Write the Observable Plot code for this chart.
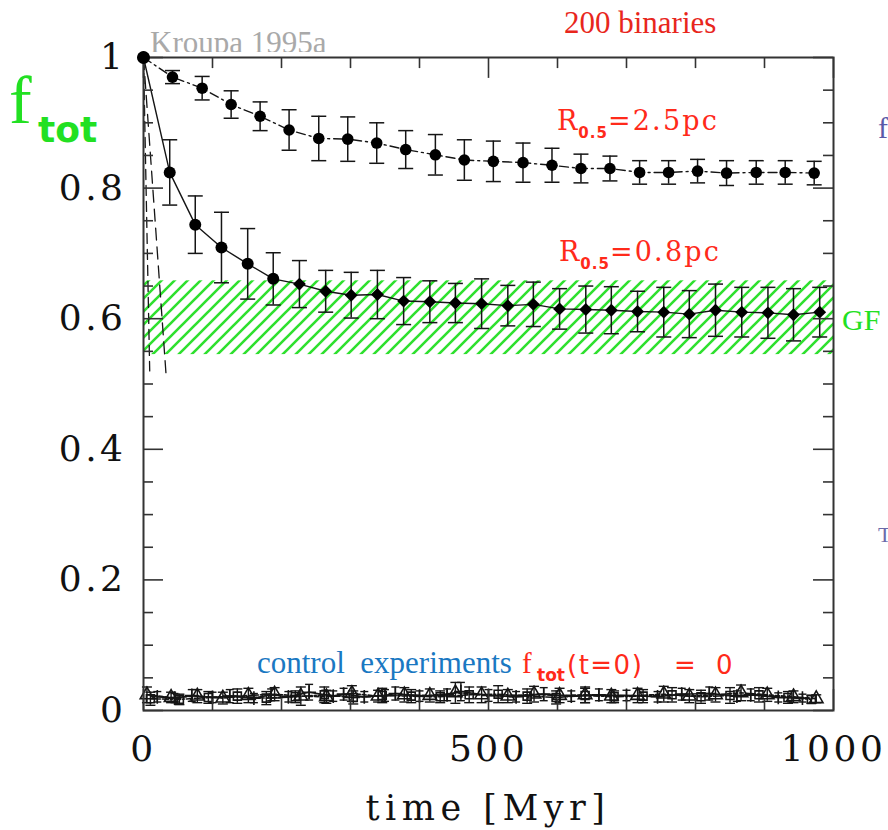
<!DOCTYPE html>
<html><head><meta charset="utf-8">
<script src="https://cdn.jsdelivr.net/npm/d3@7"></script>
<script src="https://cdn.jsdelivr.net/npm/@observablehq/plot@0.6"></script>
<style>
body{margin:0;background:#fff;overflow:hidden;}
#chart{position:relative;width:888px;height:830px;}
#chart g[aria-label="y-axis tick label"] text,
#chart g[aria-label="x-axis tick label"] text{letter-spacing:3.5px;}
</style></head><body><div id="chart"></div>
<script>
// ---- data ----
const timeS1 = [0, 42, 85, 127, 169, 211, 254, 296, 338, 380, 423, 465, 507, 550, 592, 634, 676, 719, 761, 803, 845, 888, 930, 972];
const fracS1 = [1.0, 0.970, 0.953, 0.928, 0.910, 0.889, 0.876, 0.875, 0.869, 0.859, 0.851, 0.843, 0.841, 0.839, 0.835, 0.830, 0.830, 0.824, 0.824, 0.826, 0.823, 0.824, 0.824, 0.823];
const errS1  = [0, 0.010, 0.018, 0.021, 0.022, 0.031, 0.034, 0.034, 0.031, 0.029, 0.031, 0.031, 0.031, 0.030, 0.026, 0.022, 0.019, 0.018, 0.018, 0.018, 0.019, 0.018, 0.018, 0.018];

const timeS2 = [0, 38, 75, 113, 151, 188, 226, 264, 301, 339, 377, 415, 452, 490, 528, 565, 603, 641, 678, 716, 754, 791, 829, 867, 905, 942, 980];
const fracS2 = [1.0, 0.824, 0.744, 0.709, 0.684, 0.661, 0.653, 0.642, 0.636, 0.637, 0.627, 0.626, 0.624, 0.623, 0.620, 0.622, 0.615, 0.614, 0.613, 0.611, 0.610, 0.607, 0.613, 0.610, 0.609, 0.606, 0.610];
const errS2  = [0, 0.050, 0.044, 0.054, 0.054, 0.040, 0.036, 0.032, 0.035, 0.037, 0.036, 0.032, 0.030, 0.038, 0.031, 0.034, 0.031, 0.036, 0.036, 0.031, 0.038, 0.036, 0.040, 0.038, 0.039, 0.040, 0.038];

const timeSteepA = [0, 33];
const fracSteepA = [1.0, 0.51];
const timeSteepB = [0, 9];
const fracSteepB = [1.0, 0.52];

const cTimeA = [5, 40, 78, 115, 152, 190, 228, 265, 302, 340, 378, 415, 452, 490, 528, 566, 603, 640, 678, 716, 754, 791, 829, 866, 904, 942, 975];
const cValA  = [0.024,0.020,0.022,0.019,0.023,0.025,0.022,0.021,0.026,0.022,0.024,0.023,0.027,0.024,0.022,0.025,0.023,0.024,0.022,0.023,0.025,0.022,0.024,0.027,0.024,0.021,0.018];
const cErrA  = [0.012,0.008,0.010,0.009,0.011,0.010,0.014,0.010,0.012,0.009,0.011,0.010,0.016,0.012,0.010,0.012,0.011,0.012,0.010,0.011,0.012,0.010,0.011,0.012,0.010,0.009,0.006];

const cTimeB = [10, 52, 94, 136, 178, 220, 262, 304, 346, 388, 430, 472, 514, 556, 598, 640, 682, 724, 766, 808, 850, 892, 934, 968];
const cValB  = [0.018,0.017,0.020,0.022,0.019,0.021,0.024,0.020,0.023,0.022,0.021,0.024,0.025,0.022,0.020,0.023,0.021,0.022,0.024,0.021,0.023,0.024,0.020,0.017];
const cErrB  = [0.010,0.008,0.009,0.011,0.010,0.009,0.012,0.010,0.011,0.010,0.009,0.012,0.013,0.011,0.010,0.011,0.009,0.010,0.011,0.010,0.012,0.011,0.009,0.006];

const cTimeC = [20, 45, 70, 100, 125, 160, 185, 210, 240, 275, 290, 320, 350, 365, 400, 440, 460, 500, 540, 580, 620, 660, 700, 745, 780, 820, 860, 880, 920, 955];
const cValC  = [0.021,0.019,0.023,0.020,0.022,0.019,0.024,0.021,0.028,0.022,0.025,0.021,0.023,0.026,0.022,0.024,0.029,0.023,0.021,0.025,0.022,0.024,0.023,0.021,0.025,0.026,0.022,0.024,0.020,0.019];
const cErrC  = [0.008,0.007,0.009,0.008,0.010,0.007,0.009,0.008,0.012,0.008,0.009,0.008,0.009,0.010,0.008,0.009,0.014,0.009,0.008,0.010,0.008,0.009,0.008,0.008,0.009,0.010,0.008,0.009,0.007,0.006];

const gfBand = [0.545, 0.658];

const xMajor = [0, 500, 1000];
const xMinor = [100, 200, 300, 400, 600, 700, 800, 900];
const yMajor = [0, 0.2, 0.4, 0.6, 0.8, 1];
const yMinor = [0.05, 0.1, 0.15, 0.25, 0.3, 0.35, 0.45, 0.5, 0.55, 0.65, 0.7, 0.75, 0.85, 0.9, 0.95];

// ---- build rows ----
const rows = (ts, vs, es) => ts.map((t, i) => ({t, y: vs[i], e: es ? es[i] : 0}));
const s1 = rows(timeS1, fracS1, errS1);
const s2 = rows(timeS2, fracS2, errS2);
const sA = rows(timeSteepA, fracSteepA);
const sB = rows(timeSteepB, fracSteepB);
const cA = rows(cTimeA, cValA, cErrA);
const cB = rows(cTimeB, cValB, cErrB);
const cC = rows(cTimeC, cValC, cErrC);

const cap = {draw(ctx, size) { const w = Math.sqrt(size / Math.PI); ctx.moveTo(-w, 0); ctx.lineTo(w, 0); }};
const ink = "#151515";

function errMarks(data, capR, sw) {
  const d = data.filter(r => r.e > 0);
  return [
    Plot.ruleX(d, {x: "t", y1: r => r.y - r.e, y2: r => r.y + r.e, stroke: ink, strokeWidth: sw}),
    Plot.dot(d, {x: "t", y: r => r.y + r.e, symbol: cap, r: capR, fill: "none", stroke: ink, strokeWidth: sw}),
    Plot.dot(d, {x: "t", y: r => r.y - r.e, symbol: cap, r: capR, fill: "none", stroke: ink, strokeWidth: sw})
  ];
}

const TXL = 0.032, TXS = 0.017, TYL = 29, TYS = 14.5;

const chart = Plot.plot({
  width: 888, height: 830,
  marginLeft: 143, marginRight: 55, marginTop: 57, marginBottom: 120,
  x: {domain: [0, 1000], label: null},
  y: {domain: [0, 1], label: null},
  style: {fontFamily: "DejaVu Serif", fontSize: "36px", background: "white", color: "#111"},
  marks: [
    Plot.rect([gfBand], {x1: 0, x2: 1000, y1: d => d[0], y2: d => d[1], fill: "url(#gfHatch)"}),
    // steep dashed runs
    Plot.line(sA, {x: "t", y: "y", stroke: ink, strokeWidth: 1.3, strokeDasharray: "12,7"}),
    Plot.line(sB, {x: "t", y: "y", stroke: ink, strokeWidth: 1.3, strokeDasharray: "10,6"}),
    // control experiments
    ...errMarks(cA, 5, 1.4),
    ...errMarks(cB, 5, 1.4),
    ...errMarks(cC, 4, 1.4),
    Plot.line(cA, {x: "t", y: "y", stroke: ink, strokeWidth: 1.6, strokeDasharray: "4,2"}),
    Plot.line(cB, {x: "t", y: "y", stroke: ink, strokeWidth: 1.6, strokeDasharray: "6,2,2,2"}),
    Plot.line(cC, {x: "t", y: "y", stroke: ink, strokeWidth: 1.6}),
    Plot.dot(cA, {x: "t", y: "y", symbol: "triangle", r: 5, stroke: ink, fill: "none", strokeWidth: 1.6}),
    Plot.dot(cB, {x: "t", y: "y", symbol: "square", r: 4.5, stroke: ink, fill: "none", strokeWidth: 1.6}),
    Plot.dot(cC, {x: "t", y: "y", symbol: "plus", r: 4.5, stroke: ink, strokeWidth: 1.6}),
    // R0.5 = 0.8 pc
    ...errMarks(s2, 7.5, 1.5),
    Plot.line(s2, {x: "t", y: "y", stroke: ink, strokeWidth: 1.4}),
    Plot.dot(s2.slice(0, 6), {x: "t", y: "y", r: 6, fill: "black"}),
    Plot.dot(s2.slice(6), {x: "t", y: "y", symbol: "diamond2", r: 5.8, fill: "black"}),
    // R0.5 = 2.5 pc
    ...errMarks(s1, 7.5, 1.5),
    Plot.line(s1, {x: "t", y: "y", stroke: ink, strokeWidth: 1.4, strokeDasharray: "9,4,2,4"}),
    Plot.dot(s1, {x: "t", y: "y", r: 5.8, fill: "black"}),
    // inward ticks
    Plot.ruleX(xMajor, {x: d => d, y1: 0, y2: TXL, stroke: "#333", strokeWidth: 1.6}),
    Plot.ruleX(xMajor, {x: d => d, y1: 1 - TXL, y2: 1, stroke: "#333", strokeWidth: 1.6}),
    Plot.ruleX(xMinor, {x: d => d, y1: 0, y2: TXS, stroke: "#333", strokeWidth: 1.6}),
    Plot.ruleX(xMinor, {x: d => d, y1: 1 - TXS, y2: 1, stroke: "#333", strokeWidth: 1.6}),
    Plot.ruleY(yMajor, {y: d => d, x1: 0, x2: TYL, stroke: "#333", strokeWidth: 1.6}),
    Plot.ruleY(yMajor, {y: d => d, x1: 1000 - TYL, x2: 1000, stroke: "#333", strokeWidth: 1.6}),
    Plot.ruleY(yMinor, {y: d => d, x1: 0, x2: TYS, stroke: "#333", strokeWidth: 1.6}),
    Plot.ruleY(yMinor, {y: d => d, x1: 1000 - TYS, x2: 1000, stroke: "#333", strokeWidth: 1.6}),
    Plot.frame({stroke: "#333", strokeWidth: 2}),
    Plot.axisX(xMajor, {tickSize: 0, tickPadding: 25, label: null, fontSize: 36, fontFamily: "DejaVu Serif",
      tickFormat: d => String(d)}),
    Plot.axisY(yMajor, {tickSize: 0, tickPadding: 17, label: null, fontSize: 36, fontFamily: "DejaVu Serif",
      tickFormat: d => d === 0 ? "0" : d === 1 ? "1" : d.toFixed(1)}),
    // redraw the first point on top
    Plot.dot([s1[0]], {x: "t", y: "y", r: 6.5, fill: "black"})
  ]
});

document.getElementById("chart").appendChild(chart);

// ---- defs and annotations ----
const svg = d3.select(chart);
svg.insert("defs", ":first-child").html(
  `<pattern id="gfHatch" patternUnits="userSpaceOnUse" width="13" height="13">
     <path d="M-2,2 L2,-2 M0,13 L13,0 M11,15 L15,11" stroke="#2ee02e" stroke-width="2.6" fill="none"/>
   </pattern>
   <clipPath id="kclip"><rect x="0" y="0" width="888" height="52"/></clipPath>`);

function addText(x, y, spans, extra) {
  const t = svg.append("text").attr("x", x).attr("y", y)
    .attr("text-anchor", "start").style("white-space", "pre");
  if (extra) extra(t);
  spans.forEach(s => {
    const ts = t.append("tspan").text(s.text)
      .attr("font-family", s.font || "DejaVu Serif")
      .attr("font-size", s.size)
      .attr("fill", s.fill);
    if (s.weight) ts.attr("font-weight", s.weight);
    if (s.dy) ts.attr("dy", s.dy);
    if (s.ls) ts.style("letter-spacing", s.ls + "px");
  });
  return t;
}

const red = "#ff2a1a", green = "#22e022", blue = "#1a78c2";

addText(564, 33, [{text: "200 binaries", font: "Liberation Serif", size: 31, fill: "#e8261c"}]);
addText(150, 53, [{text: "Kroupa 1995a", font: "Liberation Serif", size: 31, fill: "#a9a9a9"}], t => t.attr("clip-path", "url(#kclip)"));

addText(9, 123, [{text: "f", font: "Liberation Serif", size: 68, fill: green}]);
addText(38, 142, [{text: "tot", font: "DejaVu Sans", size: 36, weight: "bold", fill: green}]);

function rLabel(x, y, rest) {
  addText(x, y, [
    {text: "R", size: 27, fill: red, ls: 1},
    {text: "0.5", font: "DejaVu Sans", size: 15, weight: "bold", fill: red, dy: 8, ls: 1},
    {text: rest, size: 27, fill: red, dy: -8, ls: 2.2}
  ]);
}
rLabel(557, 130, "=2.5pc");
rLabel(559, 261, "=0.8pc");

addText(842, 330, [{text: "GF", font: "Liberation Serif", size: 30, fill: green}]);

addText(257, 673, [{text: "control  experiments", font: "Liberation Serif", size: 31, fill: blue}]);
addText(522, 673, [{text: "f", font: "Liberation Serif", size: 29, fill: red}]);
addText(537, 681, [{text: "tot", font: "DejaVu Sans", size: 17, weight: "bold", fill: red}]);
addText(567, 674, [{text: "(t=0)", font: "DejaVu Sans", size: 26, fill: red, ls: 1.5}]);
addText(674, 674, [{text: "=", font: "DejaVu Sans", size: 26, fill: red}]);
addText(716, 674, [{text: "0", font: "DejaVu Sans", size: 26, fill: red}]);

addText(488, 820, [{text: "time [Myr]", size: 35, fill: "#111", ls: 5.5}], t => t.attr("text-anchor", "middle"));

addText(878, 138, [{text: "f", font: "Liberation Serif", size: 30, fill: "#5a5aa8"}]);
addText(878, 542, [{text: "T", font: "Liberation Serif", size: 22, fill: "#6a6aaa"}]);
</script>
</body></html>
